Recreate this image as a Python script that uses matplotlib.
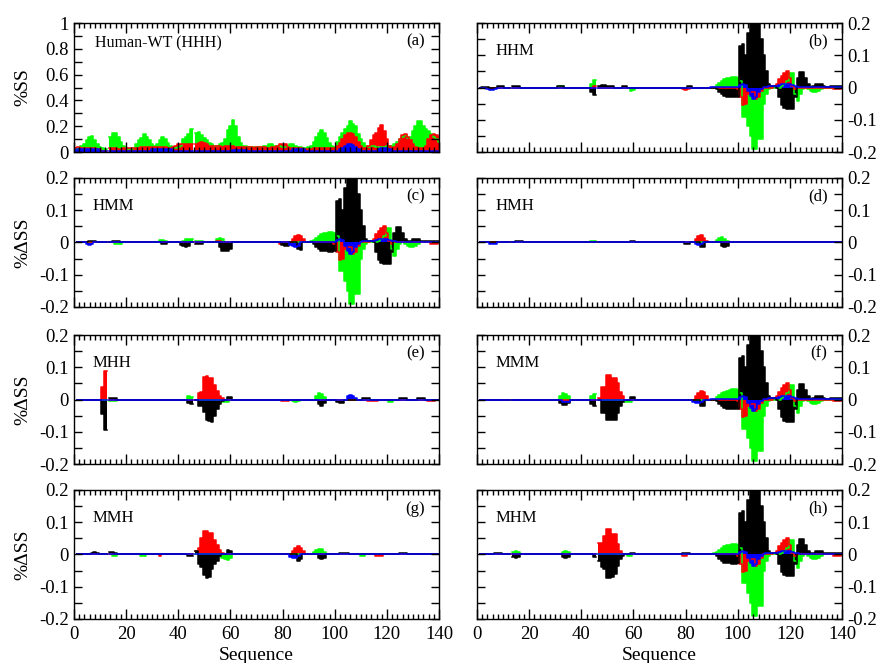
import matplotlib
matplotlib.use('Agg')
import matplotlib.pyplot as plt
import numpy as np
from matplotlib.ticker import MultipleLocator, FuncFormatter

plt.rcParams['font.family'] = ['Liberation Serif', 'DejaVu Serif']
plt.rcParams['axes.unicode_minus'] = False

RES = np.arange(1, 141)
GAPS = [13, 46]
COLORS = {'green': '#00ff00', 'red': '#ff0000', 'black': '#000000', 'blue': '#0000ff'}

# ---- panel (a): Human-WT, full per-residue values (r1..r140) ----
WT_GREEN = [0.02, 0.03, 0.05, 0.06, 0.09, 0.12, 0.125, 0.09, 0.06, 0.04,
            0.03, 0.02, np.nan, 0.12, 0.145, 0.145, 0.12, 0.08, 0.05, 0.03,
            0.02, 0.02, 0.03, 0.06, 0.09, 0.11, 0.14, 0.12, 0.09, 0.06,
            0.05, 0.06, 0.09, 0.12, 0.10, 0.07, 0.05, 0.03, 0.03, 0.04,
            0.05, 0.10, 0.12, 0.14, 0.18, np.nan, 0.15, 0.155, 0.13, 0.11,
            0.09, 0.07, 0.06, 0.05, 0.05, 0.06, 0.07, 0.10, 0.17, 0.20,
            0.25, 0.20, 0.12, 0.07, 0.05, 0.05, 0.04, 0.04, 0.04, 0.04,
            0.04, 0.04, 0.05, 0.05, 0.06, 0.06, 0.05, 0.05, 0.05, 0.04,
            0.04, 0.05, 0.06, 0.06, 0.05, 0.04, 0.04, 0.03, 0.03, 0.04,
            0.05, 0.08, 0.12, 0.15, 0.17, 0.15, 0.11, 0.07, 0.05, 0.04,
            0.08, 0.12, 0.15, 0.18, 0.20, 0.24, 0.22, 0.20, 0.14, 0.10,
            0.07, 0.05, 0.04, 0.05, 0.05, 0.04, 0.04, 0.04, 0.04, 0.05,
            0.05, 0.05, 0.06, 0.08, 0.10, 0.12, 0.13, 0.11, 0.12, 0.16,
            0.20, 0.24, 0.24, 0.20, 0.18, 0.16, 0.14, 0.12, 0.10, 0.08]
WT_RED = [0.04, 0.04, 0.03, 0.03, 0.03, 0.03, 0.03, 0.03, 0.02, 0.02,
          0.01, 0.01, np.nan, 0.03, 0.03, 0.03, 0.02, 0.02, 0.03, 0.03,
          0.03, 0.03, 0.03, 0.03, 0.03, 0.04, 0.04, 0.04, 0.04, 0.04,
          0.04, 0.04, 0.04, 0.04, 0.04, 0.03, 0.03, 0.04, 0.05, 0.06,
          0.06, 0.06, 0.06, 0.06, 0.06, np.nan, 0.06, 0.07, 0.075, 0.07,
          0.06, 0.05, 0.05, 0.05, 0.05, 0.05, 0.04, 0.05, 0.05, 0.05,
          0.05, 0.04, 0.04, 0.04, 0.04, 0.04, 0.04, 0.04, 0.03, 0.04,
          0.04, 0.04, 0.04, 0.03, 0.03, 0.04, 0.04, 0.05, 0.06, 0.065,
          0.06, 0.04, 0.03, 0.03, 0.03, 0.03, 0.03, 0.02, 0.02, 0.02,
          0.02, 0.03, 0.03, 0.03, 0.03, 0.03, 0.03, 0.03, 0.03, 0.03,
          0.05, 0.07, 0.10, 0.13, 0.15, 0.15, 0.14, 0.12, 0.08, 0.05,
          0.03, 0.03, 0.05, 0.09, 0.13, 0.15, 0.19, 0.21, 0.16, 0.10,
          0.05, 0.03, 0.04, 0.06, 0.10, 0.13, 0.14, 0.12, 0.09, 0.06,
          0.04, 0.03, 0.03, 0.03, 0.05, 0.10, 0.13, 0.14, 0.13, 0.12]
WT_BLUE = [0.02, 0.025, 0.025, 0.025, 0.02, 0.02, 0.02, 0.02, 0.02, 0.01,
           0.01, 0.01, np.nan, 0.01, 0.01, 0.01, 0.01, 0.01, 0.01, 0.01,
           0.01, 0.01, 0.01, 0.01, 0.01, 0.01, 0.01, 0.01, 0.01, 0.02,
           0.02, 0.02, 0.02, 0.02, 0.02, 0.02, 0.02, 0.01, 0.01, 0.01,
           0.01, 0.01, 0.01, 0.01, 0.01, np.nan, 0.01, 0.01, 0.01, 0.01,
           0.01, 0.01, 0.01, 0.01, 0.01, 0.01, 0.01, 0.01, 0.01, 0.01,
           0.015, 0.015, 0.015, 0.015, 0.015, 0.015, 0.01, 0.01, 0.01, 0.01,
           0.01, 0.01, 0.01, 0.01, 0.01, 0.01, 0.01, 0.01, 0.01, 0.01,
           0.01, 0.01, 0.01, 0.025, 0.025, 0.025, 0.025, 0.02, 0.01, 0.01,
           0.01, 0.01, 0.01, 0.01, 0.01, 0.01, 0.01, 0.01, 0.01, 0.01,
           0.01, 0.02, 0.035, 0.05, 0.06, 0.065, 0.055, 0.04, 0.025, 0.01,
           0.01, 0.01, 0.01, 0.01, 0.01, 0.01, 0.02, 0.028, 0.03, 0.028,
           0.02, 0.01, 0.01, 0.01, 0.01, 0.01, 0.01, 0.01, 0.01, 0.01,
           0.01, 0.01, 0.01, 0.01, 0.01, 0.01, 0.01, 0.01, 0.01, 0.01]

# ---- C-terminal change pattern shared by HHM, HMM, MMM, MHM (r90..r140) ----
CT_BLACK = (90, [0, 0, -0.005, -0.015, -0.02, -0.025, -0.028, -0.028, -0.03, -0.03, -0.028,
                 0.13, 0.135, 0.10, 0.17, 0.20, 0.21, 0.21, 0.21, 0.15, 0.10,
                 0.05, 0.01, 0.005, 0.005, 0, -0.03, -0.055, -0.065, -0.068, -0.068,
                 -0.068, -0.03, 0.03, 0.048, 0.048, 0.03, 0.01, 0.003, 0.005, 0.01,
                 0.012, 0.01, 0.005, 0.003, 0.003, 0.005, 0.005, 0.005, 0.005, 0.005])
CT_RED = (90, [0, 0, 0, 0, 0, 0, 0, 0, 0, 0, -0.005,
               -0.03, -0.055, -0.05, -0.02, -0.015, -0.015, -0.035, -0.03, -0.01, 0,
               0, 0, 0, 0.005, 0.01, 0.025, 0.035, 0.045, 0.05, 0.03,
               0.005, -0.005, 0, 0, 0, 0, 0, 0, 0, 0,
               0, 0, 0, 0, 0, 0, -0.005, -0.005, -0.005, 0])
CT_GREEN = (90, [0, 0.003, 0.008, 0.015, 0.02, 0.025, 0.028, 0.03, 0.032, 0.033, 0.03,
                 0.02, -0.09, -0.09, -0.12, -0.15, -0.19, -0.19, -0.16, -0.16, -0.05,
                 -0.02, -0.005, 0, 0, 0, 0, 0.005, 0.01, 0.02, 0.045,
                 0.045, -0.02, -0.043, -0.02, -0.005, 0, -0.005, -0.01, -0.015, -0.015,
                 -0.01, -0.005, 0, 0, 0, 0, 0, 0, 0, 0])
CT_BLUE = (90, [0.002] * 11 +
               [0.008, 0.01, 0.008, -0.01, -0.025, -0.035, -0.03, -0.015, -0.005, 0.002,
                0.003, 0.005, 0.005, 0.005, 0.005, 0.008, 0.01, 0.012, 0.012, 0.01,
                0.008, 0.005, 0.003] + [0.002] * 17)

# ---- (b) HHM ----
HHM_BLACK = [CT_BLACK, (2, [0.003, 0.003, 0.003]), (8, [0.004, 0.004, 0.004]),
             (14, [0.004, 0.004, 0.004]), (31, [0.004, 0.005, 0.004]),
             (44, [-0.015, -0.024]), (47, [0.006, 0.008, 0.008, 0.006, 0.006, 0.004]),
             (56, [0.005, 0.005]), (81, [0.004, 0.004])]
HHM_RED = [CT_RED, (45, [0.005]), (79, [-0.006, -0.008, -0.006])]
HHM_GREEN = [CT_GREEN, (32, [0.004, 0.004]), (44, [0.01, 0.023]), (59, [-0.01, -0.008])]
HHM_BLUE = [CT_BLUE, (4, [-0.004, -0.007, -0.008, -0.006])]

# ---- (c) HMM ----
HMM_BLACK = [CT_BLACK, (6, [0.004, 0.004, 0.004]), (15, [0.006, 0.006, 0.005]),
             (34, [-0.005, -0.005]), (41, [-0.008, -0.012, -0.015, -0.012]),
             (47, [-0.004, -0.004, -0.004]), (56, [-0.015, -0.025, -0.028, -0.025, -0.02]),
             (80, [-0.008, -0.01, -0.01]), (86, [-0.02, -0.023])]
HMM_RED = [CT_RED, (55, [0.005, 0.005]), (79, [-0.005]),
           (84, [0.01, 0.02, 0.024, 0.02, 0.01])]
HMM_GREEN = [CT_GREEN, (16, [-0.006, -0.006, -0.005]), (33, [0.007, 0.007, 0.006]),
             (42, [0.006, 0.01, 0.01, 0.01]), (47, [0.006, 0.006, 0.005]),
             (55, [0.012, 0.015, 0.012])]
HMM_BLUE = [CT_BLUE, (5, [-0.006, -0.007, -0.006]), (83, [-0.008, -0.012, -0.014, -0.01])]

# ---- (d) HMH ----
HMH_BLACK = [(15, [0.004, 0.004, 0.003]), (59, [0.004, 0.004]), (80, [-0.005, -0.005]),
             (86, [-0.015, -0.015]), (94, [-0.012, -0.015, -0.01])]
HMH_RED = [(84, [0.012, 0.02, 0.022, 0.015, 0.006])]
HMH_GREEN = [(44, [0.005, 0.005]), (92, [0.008, 0.015, 0.018, 0.012, 0.005])]
HMH_BLUE = [(5, [-0.005, -0.005, -0.004]), (84, [-0.006, -0.008, -0.006])]

# ---- (e) MHH ----
MHH_BLACK = [(11, [-0.044, -0.094]), (14, [0.005, 0.005, 0.005]), (44, [-0.01, -0.013]),
             (48, [-0.02, -0.02, -0.04, -0.062, -0.065, -0.068, -0.05, -0.03, -0.015, -0.005]),
             (59, [0.007, 0.007]), (94, [-0.015, -0.02, -0.01]),
             (101, [-0.008, -0.012, -0.012]), (111, [0.004, 0.004, 0.004]),
             (125, [0.005, 0.005, 0.004]), (132, [0.004, 0.004, 0.004])]
MHH_RED = [(11, [0.04, 0.09]),
           (48, [0.02, 0.025, 0.07, 0.072, 0.067, 0.067, 0.045, 0.028, 0.012, 0.004]),
           (80, [-0.005, -0.005, -0.004]), (113, [-0.004, -0.005, -0.005, -0.004]),
           (136, [-0.004, -0.005, -0.004])]
MHH_GREEN = [(14, [-0.005, -0.005, -0.004]), (44, [0.01, 0.008]), (57, [-0.006, -0.008, -0.008]),
             (84, [-0.005, -0.006, -0.005]), (93, [0.012, 0.02, 0.018, 0.008]),
             (121, [-0.006, -0.006])]
MHH_BLUE = [(105, [0.01, 0.015, 0.012, 0.005])]

# ---- (f) MMM ----
MMM_BLACK = [CT_BLACK, (32, [-0.01, -0.018, -0.018, -0.01]), (44, [-0.015, -0.02]),
             (48, [-0.043, -0.043, -0.064, -0.064, -0.064, -0.064, -0.043, -0.02, -0.008]),
             (59, [0.008, 0.008]), (86, [-0.02, -0.02])]
MMM_RED = [CT_RED, (47, [0.005]),
           (48, [0.04, 0.04, 0.075, 0.075, 0.068, 0.068, 0.05, 0.024, 0.01]),
           (84, [0.01, 0.02, 0.026, 0.022, 0.01])]
MMM_GREEN = [CT_GREEN, (32, [0.012, 0.02, 0.018, 0.01]), (44, [0.012, 0.016]),
             (57, [-0.006, -0.008, -0.006])]
MMM_BLUE = [CT_BLUE, (33, [-0.006, -0.008, -0.006]), (83, [-0.008, -0.01, -0.01, -0.006])]

# ---- (g) MMH ----
MMH_BLACK = [(7, [0.006, 0.008, 0.006]), (14, [0.007, 0.007, 0.006]), (44, [-0.006, -0.006]),
             (47, [0.01, -0.03, -0.04, -0.065, -0.072, -0.07, -0.046, -0.03, -0.02, -0.005]),
             (59, [0.015, 0.012]), (86, [-0.02, -0.015]), (94, [-0.012, -0.015, -0.01]),
             (102, [0.005, 0.005, 0.005, 0.004]), (125, [0.005, 0.005, 0.004])]
MMH_RED = [(33, [-0.004]),
           (47, [0.01, 0.02, 0.05, 0.072, 0.072, 0.068, 0.068, 0.045, 0.03, 0.015, 0.005]),
           (84, [0.012, 0.02, 0.025, 0.02, 0.01]), (116, [-0.005, -0.006, -0.005])]
MMH_GREEN = [(15, [-0.005, -0.005]), (26, [-0.004, -0.004]), (57, [-0.01, -0.015, -0.018, -0.012]),
             (92, [0.008, 0.015, 0.018, 0.016, 0.008]), (110, [-0.005, -0.005])]
MMH_BLUE = [(83, [-0.008, -0.01, -0.01, -0.006])]

# ---- (h) MHM ----
MHM_BLACK = [CT_BLACK, (7, [0.006, 0.006, 0.005]), (14, [-0.008, -0.01, -0.008]),
             (33, [-0.008, -0.01, -0.008]), (45, [-0.008]),
             (47, [-0.02, -0.04, -0.045, -0.072, -0.072, -0.07, -0.06, -0.035, -0.015, -0.005]),
             (59, [0.005, 0.005]), (79, [0.005, 0.005, 0.004])]
MHM_RED = [CT_RED, (47, [0.036, 0.036, 0.057, 0.08, 0.08, 0.065, 0.065, 0.031, 0.01]),
           (79, [-0.005, -0.005])]
MHM_GREEN = [CT_GREEN, (14, [0.008, 0.01, 0.008]), (33, [0.008, 0.01, 0.008]),
             (58, [-0.005, -0.005])]
MHM_BLUE = [CT_BLUE]


def build(segs):
    y = np.zeros(len(RES))
    for start, vals in segs:
        for k, v in enumerate(vals):
            y[start - 1 + k] += v
    for g in GAPS:
        y[g - 1] = np.nan
    return y


def draw_series(ax, y, color):
    ax.bar(RES, np.nan_to_num(y), width=1.0, color=color, linewidth=0, zorder=1)
    ax.step(RES, y, where='mid', color=color, lw=1.1, zorder=1.2)


def style(ax, delta=True, right=False, bottom=False):
    ax.set_xlim(0, 140)
    ax.xaxis.set_major_locator(MultipleLocator(20))
    ax.xaxis.set_minor_locator(MultipleLocator(2))
    if delta:
        ax.set_ylim(-0.2, 0.2)
        ax.yaxis.set_major_locator(MultipleLocator(0.1))
        ax.yaxis.set_minor_locator(MultipleLocator(0.05))
    else:
        ax.set_ylim(0, 1)
        ax.yaxis.set_major_locator(MultipleLocator(0.2))
        ax.yaxis.set_minor_locator(MultipleLocator(0.1))
    ax.yaxis.set_major_formatter(FuncFormatter(lambda v, p: '%g' % round(v, 3)))
    ax.xaxis.set_major_formatter(FuncFormatter(lambda v, p: '%d' % v))
    ax.tick_params(which='both', direction='in', top=True, right=True,
                   labelsize=13.5, width=1.0)
    ax.tick_params(axis='x', which='major', length=7, pad=5)
    ax.tick_params(axis='x', which='minor', length=3.5)
    ax.tick_params(axis='y', which='both', length=5.5)
    ax.tick_params(labelbottom=bottom, labelleft=not right, labelright=right)
    for s in ax.spines.values():
        s.set_linewidth(1.0)
    ax.set_axisbelow(False)


fig = plt.figure(figsize=(8.8, 6.63), dpi=100)
lefts = [0.084, 0.542]
bottoms = [0.7707, 0.537, 0.300, 0.0664]
w, h = 0.415, 0.1946

panels = [
    ('Human-WT (HHH)', '(a)', None),
    ('HHM', '(b)', (HHM_GREEN, HHM_RED, HHM_BLACK, HHM_BLUE)),
    ('HMM', '(c)', (HMM_GREEN, HMM_RED, HMM_BLACK, HMM_BLUE)),
    ('HMH', '(d)', (HMH_GREEN, HMH_RED, HMH_BLACK, HMH_BLUE)),
    ('MHH', '(e)', (MHH_GREEN, MHH_RED, MHH_BLACK, MHH_BLUE)),
    ('MMM', '(f)', (MMM_GREEN, MMM_RED, MMM_BLACK, MMM_BLUE)),
    ('MMH', '(g)', (MMH_GREEN, MMH_RED, MMH_BLACK, MMH_BLUE)),
    ('MHM', '(h)', (MHM_GREEN, MHM_RED, MHM_BLACK, MHM_BLUE)),
]

for i, (name, letter, series) in enumerate(panels):
    row, col = divmod(i, 2)
    ax = fig.add_axes([lefts[col], bottoms[row], w, h])
    if series is None:
        for vals, c in zip((WT_GREEN, WT_RED, WT_BLUE), ('green', 'red', 'blue')):
            draw_series(ax, np.array(vals, dtype=float), COLORS[c])
        style(ax, delta=False, right=False, bottom=False)
        ax.set_ylabel('%SS', fontsize=14)
        ax.text(0.057, 0.843, name, transform=ax.transAxes, fontsize=11.5, va='center', ha='left')
    else:
        for segs, c in zip(series, ('green', 'red', 'black', 'blue')):
            draw_series(ax, build(segs), COLORS[c])
        style(ax, delta=True, right=(col == 1), bottom=(row == 3))
        if col == 0:
            ax.set_ylabel('%ΔSS', fontsize=14)
        ax.text(0.05, 0.785, name, transform=ax.transAxes, fontsize=12, va='center', ha='left')
    ax.text(0.96, 0.855, letter, transform=ax.transAxes, fontsize=12, va='center', ha='right')
    if col == 0:
        ax.yaxis.set_label_coords(-0.116, 0.5)
    if row == 3:
        ax.set_xlabel('Sequence', fontsize=14)
        ax.xaxis.set_label_coords(0.5, -0.215)

fig.savefig('out.png', dpi=100)
plt.close(fig)
